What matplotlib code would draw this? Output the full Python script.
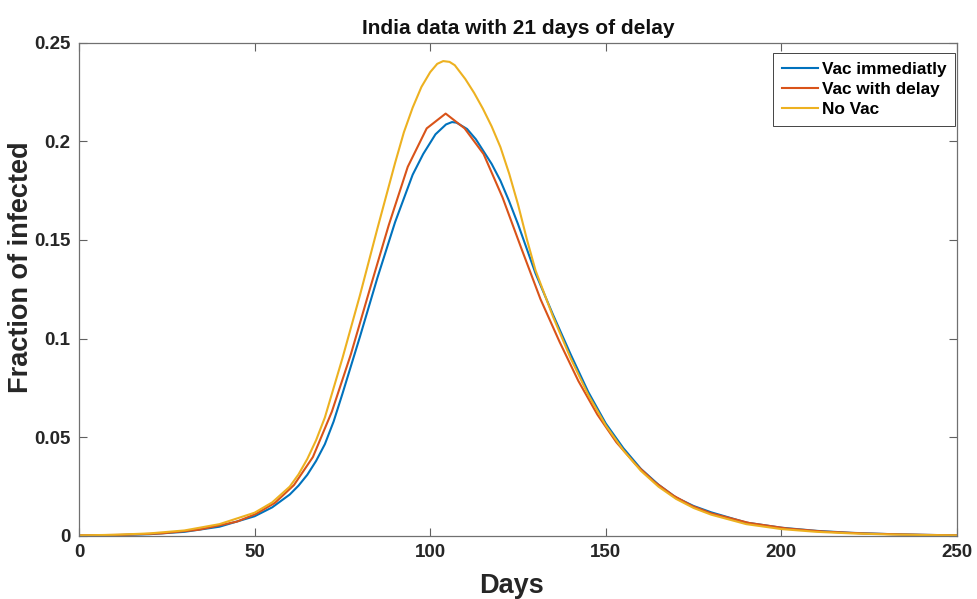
import matplotlib
matplotlib.use("Agg")
import matplotlib.pyplot as plt

# Vac immediatly (blue)
days_imm = [0, 10, 20, 30, 40, 50, 55, 60, 62.5, 65, 67.5, 70, 72.5, 75, 77.5, 80,
            85, 90, 95, 98, 101.5, 104.5, 106.2, 107.5, 110.5, 113, 117.5, 120, 122.5,
            125, 127.5, 130, 135, 140, 145, 150, 155, 160, 165, 170, 175, 180, 190,
            200, 210, 220, 230, 240, 250]
frac_imm = [0.0002, 0.0004, 0.0009, 0.0021, 0.0047, 0.0100, 0.0145, 0.0210, 0.0255,
            0.0310, 0.0380, 0.0465, 0.0580, 0.0720, 0.0865, 0.101, 0.131, 0.159,
            0.183, 0.1935, 0.2035, 0.2085, 0.2097, 0.2094, 0.2062, 0.2010, 0.1885,
            0.180, 0.1695, 0.158, 0.1455, 0.133, 0.112, 0.092, 0.073, 0.057, 0.0445,
            0.034, 0.026, 0.0195, 0.0152, 0.012, 0.0068, 0.0042, 0.0026, 0.0016,
            0.0010, 0.0006, 0.0003]

# Vac with delay (red), coarse time grid
days_del = [0, 12.6, 23.4, 34.2, 45.0, 50.4, 55.8, 61.2, 66.6, 72.0, 77.4, 82.8,
            88.2, 93.6, 99.0, 104.4, 109.8, 115.2, 120.6, 126.0, 131.4, 136.8,
            142.2, 147.6, 153.0, 158.4, 163.8, 169.2, 174.6, 180.0, 190.8, 201.6,
            212.4, 223.2, 234.0, 250]
frac_del = [0.0003, 0.0006, 0.0013, 0.0032, 0.0073, 0.0112, 0.0168, 0.0258, 0.0400,
            0.0630, 0.092, 0.125, 0.1575, 0.1870, 0.2065, 0.2140, 0.2065, 0.1935,
            0.1715, 0.1455, 0.120, 0.0985, 0.0785, 0.0615, 0.0475, 0.0365, 0.0275,
            0.0205, 0.0152, 0.0115, 0.0066, 0.0038, 0.0022, 0.0013, 0.0008, 0.0003]

# No Vac (yellow)
days_no = [0, 10, 20, 30, 40, 50, 55, 60, 62.5, 65, 67.5, 70, 75, 80, 85, 90, 92.5,
           95, 97.5, 100, 102, 103.7, 105.5, 107, 110, 112.5, 115, 117.5, 120, 122.5,
           125, 127.5, 130, 135, 140, 145, 150, 155, 160, 165, 170, 175, 180, 190,
           200, 210, 220, 230, 240, 250]
frac_no = [0.0003, 0.0006, 0.0013, 0.0028, 0.0060, 0.0118, 0.0170, 0.025, 0.0312,
           0.039, 0.0485, 0.060, 0.090, 0.122, 0.156, 0.189, 0.2045, 0.217, 0.2275,
           0.2350, 0.2392, 0.2406, 0.2402, 0.2385, 0.2315, 0.2245, 0.2165, 0.2075,
           0.197, 0.1835, 0.168, 0.1505, 0.1345, 0.111, 0.090, 0.0715, 0.056,
           0.0434, 0.033, 0.025, 0.0188, 0.0142, 0.0108, 0.0060, 0.0035, 0.0021,
           0.0013, 0.0008, 0.0005, 0.0003]

xticks = [0, 50, 100, 150, 200, 250]
yticks = [0, 0.05, 0.1, 0.15, 0.2, 0.25]
yticklabels = ['0', '0.05', '0.1', '0.15', '0.2', '0.25']

plt.rcParams['font.family'] = ['Liberation Sans', 'DejaVu Sans']
plt.rcParams['font.weight'] = 'bold'

fig = plt.figure(figsize=(9.78, 5.99), dpi=100)
ax = fig.add_axes([0.0808, 0.1052, 0.8977, 0.8238])

ax.plot(days_imm, frac_imm, color='#0072BD', lw=1.5, label='Vac immediatly')
ax.plot(days_del, frac_del, color='#D95319', lw=1.5, label='Vac with delay')
ax.plot(days_no, frac_no, color='#EDB120', lw=1.5, label='No Vac')

ax.set_xlim(0, 250)
ax.set_ylim(0, 0.25)
ax.set_xticks(xticks)
ax.set_xticklabels([str(t) for t in xticks])
ax.set_yticks(yticks)
ax.set_yticklabels(yticklabels)
ax.tick_params(direction='in', length=6, width=0.8, color='#606060',
               top=True, right=True, labelsize=13.5, labelcolor='#262626', pad=6)
for s in ax.spines.values():
    s.set_color('#707070')
    s.set_linewidth(0.9)

ax.set_title('India data with 21 days of delay', fontsize=15, fontweight='bold',
             color='#111111', pad=6)
ax.set_xlabel('Days', fontsize=19.5, fontweight='bold', color='#262626')
ax.set_ylabel('Fraction of infected', fontsize=19.5, fontweight='bold',
              color='#262626')
ax.xaxis.set_label_coords(0.493, -0.076)
ax.yaxis.set_label_coords(-0.051, 0.544)

leg = ax.legend(loc='upper right', bbox_to_anchor=(0.9977, 0.979), borderaxespad=0,
                fontsize=12.4, fancybox=False, framealpha=1, edgecolor='#262626',
                handlelength=2.1, handletextpad=0.2, labelspacing=0.3,
                borderpad=0.5)
leg.get_frame().set_linewidth(0.6)

fig.savefig('out.png', dpi=100)
